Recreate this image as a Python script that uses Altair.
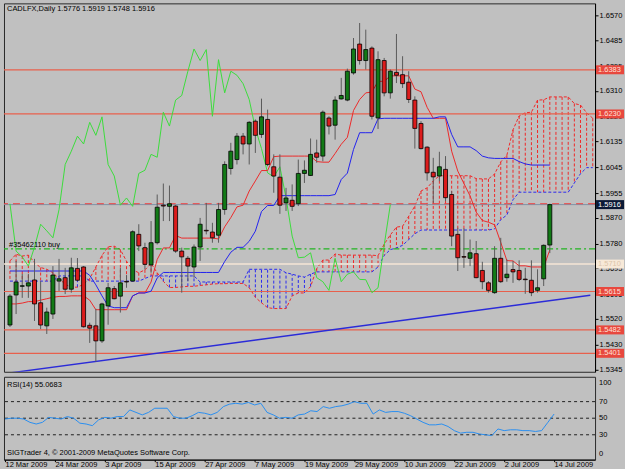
import altair as alt
import pandas as pd

# ---------------- data ----------------
date_labels = ["12 Mar 2009", "24 Mar 2009", "3 Apr 2009", "15 Apr 2009", "27 Apr 2009",
               "7 May 2009", "19 May 2009", "29 May 2009", "10 Jun 2009", "22 Jun 2009",
               "2 Jul 2009", "14 Jul 2009"]
date_ticks = [0, 8, 16, 24, 32, 40, 48, 56, 64, 72, 80, 88]

opens = [1.5499, 1.5603, 1.5633, 1.5634, 1.5655, 1.5576, 1.5496, 1.5537, 1.5651, 1.5663,
         1.5623, 1.5695, 1.5700, 1.5498, 1.5496, 1.5444, 1.5565, 1.5625, 1.5599, 1.5650,
         1.5651, 1.5813, 1.5767, 1.5707, 1.5784, 1.5914, 1.5910, 1.5911, 1.5755, 1.5730,
         1.5700, 1.5769, 1.5827, 1.5821, 1.5810, 1.5899, 1.6041, 1.6072, 1.6153, 1.6126,
         1.6205, 1.6159, 1.6211, 1.6047, 1.6011, 1.5922, 1.5931, 1.5919, 1.6024, 1.6017,
         1.6095, 1.6084, 1.6216, 1.6191, 1.6282, 1.6278, 1.6372, 1.6472, 1.6415, 1.6458,
         1.6216, 1.6415, 1.6303, 1.6374, 1.6366, 1.6340, 1.6278, 1.6197, 1.6115, 1.6028,
         1.6015, 1.6038, 1.5951, 1.5813, 1.5736, 1.5730, 1.5746, 1.5688, 1.5645, 1.5611,
         1.5730, 1.5663, 1.5691, 1.5688, 1.5658, 1.5654, 1.5619, 1.5659, 1.5776]
highs = [1.5606, 1.5721, 1.5676, 1.5676, 1.5728, 1.5651, 1.5559, 1.5703, 1.5728, 1.5697,
         1.5732, 1.5731, 1.5703, 1.5507, 1.5555, 1.5576, 1.5645, 1.5634, 1.5697, 1.5672,
         1.5827, 1.5848, 1.5784, 1.5859, 1.5951, 1.5989, 1.5982, 1.5914, 1.5767, 1.5738,
         1.5778, 1.5870, 1.5922, 1.5853, 1.5922, 1.6066, 1.6130, 1.6164, 1.6164, 1.6205,
         1.6211, 1.6283, 1.6245, 1.6090, 1.6090, 1.5974, 1.5986, 1.6072, 1.6069, 1.6145,
         1.6141, 1.6242, 1.6222, 1.6291, 1.6355, 1.6387, 1.6493, 1.6545, 1.6522, 1.6464,
         1.6447, 1.6424, 1.6384, 1.6507, 1.6430, 1.6378, 1.6291, 1.6205, 1.6118, 1.6078,
         1.6099, 1.6084, 1.5963, 1.5836, 1.5834, 1.5795, 1.5790, 1.5718, 1.5651, 1.5772,
         1.5801, 1.5726, 1.5721, 1.5723, 1.5697, 1.5723, 1.5692, 1.5778, 1.5919]
lows = [1.5492, 1.5537, 1.5593, 1.5593, 1.5513, 1.5485, 1.5468, 1.5520, 1.5617, 1.5606,
        1.5611, 1.5651, 1.5490, 1.5437, 1.5372, 1.5437, 1.5500, 1.5588, 1.5542, 1.5628,
        1.5649, 1.5755, 1.5692, 1.5680, 1.5778, 1.5859, 1.5859, 1.5749, 1.5611, 1.5651,
        1.5663, 1.5721, 1.5813, 1.5784, 1.5784, 1.5881, 1.6020, 1.6055, 1.6090, 1.6055,
        1.6095, 1.6147, 1.6049, 1.5957, 1.5884, 1.5894, 1.5894, 1.5911, 1.5991, 1.6015,
        1.6061, 1.6066, 1.6159, 1.6141, 1.6280, 1.6274, 1.6366, 1.6401, 1.6384, 1.6211,
        1.6178, 1.6291, 1.6283, 1.6337, 1.6320, 1.6268, 1.6110, 1.6107, 1.5999, 1.5922,
        1.5997, 1.5928, 1.5772, 1.5686, 1.5697, 1.5703, 1.5661, 1.5623, 1.5611, 1.5607,
        1.5645, 1.5649, 1.5645, 1.5651, 1.5607, 1.5599, 1.5611, 1.5634, 1.5748]
closes = [1.5599, 1.5648, 1.5635, 1.5645, 1.5572, 1.5499, 1.5544, 1.5672, 1.5659, 1.5623,
          1.5697, 1.5654, 1.5493, 1.5488, 1.5444, 1.5572, 1.5628, 1.5590, 1.5645, 1.5648,
          1.5822, 1.5773, 1.5709, 1.5784, 1.5907, 1.5911, 1.5919, 1.5755, 1.5735, 1.5703,
          1.5769, 1.5848, 1.5825, 1.5801, 1.5899, 1.6055, 1.6101, 1.6153, 1.6126, 1.6201,
          1.6156, 1.6220, 1.6055, 1.6015, 1.5914, 1.5939, 1.5910, 1.6024, 1.6035, 1.6090,
          1.6080, 1.6236, 1.6188, 1.6278, 1.6294, 1.6378, 1.6455, 1.6415, 1.6453, 1.6222,
          1.6418, 1.6303, 1.6378, 1.6364, 1.6335, 1.6280, 1.6180, 1.6110, 1.6026, 1.6012,
          1.6047, 1.5940, 1.5807, 1.5732, 1.5734, 1.5749, 1.5663, 1.5649, 1.5619, 1.5730,
          1.5649, 1.5675, 1.5683, 1.5657, 1.5656, 1.5611, 1.5628, 1.5775, 1.5916]

tenkan = [1.5572, 1.5572, 1.5575, 1.5580, 1.5580, 1.5585, 1.5590, 1.5595, 1.5598, 1.5598,
          1.5600, 1.5600, 1.5600, 1.5585, 1.5552, 1.5552, 1.5552, 1.5552, 1.5552, 1.5552,
          1.5600, 1.5610, 1.5610, 1.5648, 1.5726, 1.5766, 1.5766, 1.5809, 1.5800, 1.5800,
          1.5800, 1.5800, 1.5800, 1.5800, 1.5797, 1.5839, 1.5871, 1.5908, 1.5914, 1.5963,
          1.5998, 1.6034, 1.6034, 1.6082, 1.6084, 1.6084, 1.6084, 1.6084, 1.6084, 1.6084,
          1.6065, 1.6063, 1.6063, 1.6093, 1.6125, 1.6149, 1.6242, 1.6280, 1.6303, 1.6306,
          1.6343, 1.6343, 1.6362, 1.6362, 1.6362, 1.6362, 1.6316, 1.6307, 1.6253, 1.6215,
          1.6215, 1.6215, 1.6101, 1.6032, 1.5989, 1.5946, 1.5890, 1.5861, 1.5855, 1.5846,
          1.5785, 1.5722, 1.5721, 1.5704, 1.5704, 1.5700, 1.5700, 1.5700, 1.5759]
kijun = [1.5686, 1.5686, 1.5686, 1.5686, 1.5686, 1.5686, 1.5686, 1.5686, 1.5686, 1.5686,
         1.5686, 1.5686, 1.5686, 1.5671, 1.5638, 1.5600, 1.5565, 1.5559, 1.5559, 1.5559,
         1.5600, 1.5610, 1.5610, 1.5616, 1.5662, 1.5681, 1.5681, 1.5681, 1.5681, 1.5681,
         1.5681, 1.5681, 1.5681, 1.5681, 1.5681, 1.5719, 1.5751, 1.5768, 1.5768, 1.5789,
         1.5824, 1.5892, 1.5913, 1.5913, 1.5947, 1.5947, 1.5947, 1.5947, 1.5947, 1.5947,
         1.5947, 1.5947, 1.5947, 1.5951, 1.6003, 1.6025, 1.6107, 1.6165, 1.6165, 1.6165,
         1.6213, 1.6215, 1.6215, 1.6215, 1.6215, 1.6215, 1.6215, 1.6215, 1.6215, 1.6215,
         1.6220, 1.6220, 1.6159, 1.6116, 1.6116, 1.6116, 1.6103, 1.6084, 1.6078, 1.6076,
         1.6076, 1.6076, 1.6076, 1.6065, 1.6057, 1.6053, 1.6053, 1.6053, 1.6053]

# Senkou spans as drawn (already shifted 26 bars ahead), bars 0..95
span_a = [1.5721, 1.5744, 1.5738, 1.5741, 1.5715, 1.5698, 1.5692, 1.5680, 1.5660, 1.5640,
          1.5630, 1.5630, 1.5640, 1.5660, 1.5700, 1.5740, 1.5770, 1.5772, 1.5760, 1.5720,
          1.5690, 1.5680, 1.5690, 1.5712, 1.5680, 1.5650, 1.5629, 1.5629, 1.5631, 1.5633,
          1.5633, 1.5636, 1.5638, 1.5641, 1.5642, 1.5642, 1.5643, 1.5643, 1.5643, 1.5628,
          1.5595, 1.5576, 1.5559, 1.5556, 1.5556, 1.5556, 1.5600, 1.5610, 1.5610, 1.5632,
          1.5694, 1.5724, 1.5724, 1.5745, 1.5741, 1.5741, 1.5741, 1.5741, 1.5741, 1.5741,
          1.5739, 1.5779, 1.5811, 1.5838, 1.5841, 1.5876, 1.5911, 1.5963, 1.5974, 1.5998,
          1.6016, 1.6016, 1.6016, 1.6016, 1.6016, 1.6016, 1.6006, 1.6005, 1.6005, 1.6022,
          1.6064, 1.6087, 1.6175, 1.6223, 1.6234, 1.6236, 1.6278, 1.6279, 1.6289, 1.6289,
          1.6289, 1.6289, 1.6266, 1.6261, 1.6234, 1.6215]
span_b = [1.5651, 1.5651, 1.5651, 1.5651, 1.5651, 1.5651, 1.5651, 1.5651, 1.5669, 1.5669,
          1.5669, 1.5669, 1.5669, 1.5651, 1.5651, 1.5651, 1.5651, 1.5651, 1.5651, 1.5651,
          1.5651, 1.5651, 1.5660, 1.5669, 1.5669, 1.5669, 1.5669, 1.5669, 1.5669, 1.5669,
          1.5669, 1.5648, 1.5648, 1.5648, 1.5648, 1.5648, 1.5648, 1.5648, 1.5648, 1.5692,
          1.5692, 1.5692, 1.5692, 1.5692, 1.5692, 1.5680, 1.5675, 1.5669, 1.5665, 1.5675,
          1.5683, 1.5683, 1.5683, 1.5683, 1.5683, 1.5683, 1.5683, 1.5683, 1.5683, 1.5683,
          1.5700, 1.5740, 1.5760, 1.5766, 1.5775, 1.5795, 1.5815, 1.5828, 1.5828, 1.5828,
          1.5828, 1.5828, 1.5828, 1.5828, 1.5828, 1.5828, 1.5828, 1.5828, 1.5828, 1.5832,
          1.5864, 1.5880, 1.5933, 1.5959, 1.5959, 1.5959, 1.5959, 1.5959, 1.5959, 1.5959,
          1.5959, 1.5959, 1.5991, 1.6023, 1.6044, 1.6044]

rsi = [49, 50, 50, 49, 45, 43, 45, 51, 50, 49,
       52, 50, 44, 43, 41, 48, 51, 50, 52, 52,
       60, 57, 54, 57, 62, 62, 62, 52, 50, 50,
       53, 57, 56, 54, 57, 64, 67, 68, 67, 69,
       66, 68, 57, 54, 50, 51, 50, 54, 55, 59,
       58, 64, 62, 64, 65, 67, 70, 68, 68, 55,
       60, 57, 58, 58, 56, 53, 49, 45, 42, 42,
       43, 40, 35, 32, 33, 33, 31, 30, 29, 37,
       35, 36, 36, 35, 35, 34, 35, 45, 55.07]

chikou_shift = 26
level_prices = [1.6383, 1.6230, 1.5615, 1.5482, 1.5401]
bid_price = [1.5916]
stop_price = [1.5919]
order_price = [1.5763]
pale_price = [1.5710]
trend_bars = [0, 94.6]
trend_prices = [1.5333, 1.5602]
price_ticks = [1.6570, 1.6485, 1.6395, 1.6310, 1.6220, 1.6135, 1.6045, 1.5955, 1.5870,
               1.5780, 1.5695, 1.5605, 1.5520, 1.5430, 1.5345]
box_prices = [1.6383, 1.6230, 1.5916, 1.5710, 1.5615, 1.5482, 1.5401]
box_fill = ["#e8483e", "#e8483e", "#0b1a36", "#f7e9d8", "#e8483e", "#e8483e", "#e8483e"]
box_text = ["#ffe0d8", "#ffe0d8", "#ffffff", "#dcc4a8", "#ffe0d8", "#ffe0d8", "#ffe0d8"]
rsi_levels = [30, 50, 70]

# ---------------- styles ----------------
FONT = "Liberation Sans"
FS = 7.5
W = 592
H_MAIN = 369
H_RSI = 83
xdom = [-0.16, 94.56]
pdom = [1.5337, 1.6613]

xs = alt.Scale(domain=xdom, nice=False, zero=False)
ps = alt.Scale(domain=pdom, nice=False, zero=False)
paxis = alt.Axis(orient="right", values=price_ticks, format=".4f", labelFont=FONT,
                 labelFontSize=FS, labelColor="#000000", tickSize=3, tickColor="#000000",
                 domainColor="#000000", labelPadding=1, grid=False, labelOverlap=False,
                 labelFlush=False, title=None)


def PX(f="i:Q"):
    return alt.X(f, scale=xs, axis=None, title=None)


def PY(f):
    return alt.Y(f, scale=ps, axis=paxis, title=None)


n = len(opens)
cdf = pd.DataFrame({"i": list(range(n)), "o": opens, "h": highs, "l": lows, "c": closes,
                    "tk": tenkan, "kj": kijun})
cdf["col"] = ["#127a16" if c >= o else "#dc1c1c" for o, c in zip(opens, closes)]

chik = pd.DataFrame({"i": list(range(n - chikou_shift)), "v": closes[chikou_shift:]})

sdf = pd.DataFrame({"i": list(range(len(span_a))), "a": span_a, "b": span_b})
sdf["hc"] = ["#f02828" if a >= b else "#2a2af0" for a, b in zip(span_a, span_b)]

hatch = alt.Chart(sdf).mark_rule(strokeDash=[3, 2], strokeWidth=1, clip=True).encode(
    x=PX(), y=PY("a:Q"), y2="b:Q", color=alt.Color("hc:N", scale=None))
line_a = alt.Chart(sdf).mark_line(strokeDash=[3, 2], strokeWidth=1, color="#f02828",
                                  clip=True).encode(x=PX(), y=PY("a:Q"))
line_b = alt.Chart(sdf).mark_line(strokeDash=[3, 2], strokeWidth=1, color="#2a2af0",
                                  clip=True).encode(x=PX(), y=PY("b:Q"))

lv = alt.Chart(pd.DataFrame({"p": level_prices})).mark_rule(
    color="#e8604c", strokeWidth=1.2).encode(y=PY("p:Q"))
pale = alt.Chart(pd.DataFrame({"p": pale_price})).mark_rule(
    color="#f6e6d6", strokeWidth=1.5).encode(y=PY("p:Q"))
bid = alt.Chart(pd.DataFrame({"p": bid_price})).mark_rule(
    color="#7d92a8", strokeWidth=1).encode(y=PY("p:Q"))
stop = alt.Chart(pd.DataFrame({"p": stop_price})).mark_rule(
    color="#f03c3c", strokeWidth=1, strokeDash=[7, 5]).encode(y=PY("p:Q"))
order = alt.Chart(pd.DataFrame({"p": order_price})).mark_rule(
    color="#22b422", strokeWidth=1.2, strokeDash=[6, 3, 2, 3]).encode(y=PY("p:Q"))

trend = alt.Chart(pd.DataFrame({"i": trend_bars, "p": trend_prices})).mark_line(
    color="#2b2bd8", strokeWidth=1.4, clip=True).encode(x=PX(), y=PY("p:Q"))

chikou_line = alt.Chart(chik).mark_line(color="#3cdc3c", strokeWidth=1, clip=True).encode(
    x=PX(), y=PY("v:Q"))
tenkan_line = alt.Chart(cdf).mark_line(color="#ec2a2a", strokeWidth=1, clip=True).encode(
    x=PX(), y=PY("tk:Q"))
kijun_line = alt.Chart(cdf).mark_line(color="#2222ee", strokeWidth=1, clip=True).encode(
    x=PX(), y=PY("kj:Q"))

wicks = alt.Chart(cdf).mark_rule(color="#5a5a5a", strokeWidth=1, clip=True).encode(
    x=PX(), y=PY("l:Q"), y2="h:Q")
bodies = alt.Chart(cdf).mark_bar(size=4, stroke="#000000", strokeWidth=0.8, clip=True).encode(
    x=PX(), y=PY("o:Q"), y2="c:Q", color=alt.Color("col:N", scale=None))

title_txt = alt.Chart(pd.DataFrame({"t": ["CADLFX,Daily  1.5776 1.5919 1.5748 1.5916"]})).mark_text(
    align="left", baseline="middle", font=FONT, fontSize=FS, color="#000000").encode(
    x=alt.value(3), y=alt.value(6), text="t:N")
order_txt = alt.Chart(pd.DataFrame({"p": order_price, "t": ["#35462110 buy"]})).mark_text(
    align="left", baseline="alphabetic", dy=-2, font=FONT, fontSize=FS, color="#000000").encode(
    x=alt.value(5), y=PY("p:Q"), text="t:N")

bdf = pd.DataFrame({"p": box_prices, "f": box_fill, "tc": box_text,
                    "t": [f"{v:.4f}" for v in box_prices]})
boxes = alt.Chart(bdf).mark_tick(orient="horizontal", thickness=9, size=28, opacity=1).encode(
    x=alt.value(W + 15), y=PY("p:Q"), color=alt.Color("f:N", scale=None))
box_txt = alt.Chart(bdf).mark_text(align="left", baseline="middle", font=FONT, fontSize=FS).encode(
    x=alt.value(W + 3), y=PY("p:Q"), text="t:N", color=alt.Color("tc:N", scale=None))

main = alt.layer(hatch, line_a, line_b, lv, pale, bid, stop, order, trend,
                 chikou_line, tenkan_line, kijun_line, wicks, bodies,
                 title_txt, order_txt, boxes, box_txt).properties(width=W, height=H_MAIN)

# ---------------- RSI panel ----------------
label_js = "[" + ",".join("'" + d + "'" for d in date_labels) + "]"
xaxis = alt.Axis(orient="bottom", values=date_ticks,
                 labelExpr=label_js + "[round(datum.value/8)]",
                 labelAlign="left", labelBaseline="middle", labelFont=FONT, labelFontSize=FS,
                 labelColor="#000000", tickSize=2, tickColor="#000000", domainColor="#000000",
                 labelPadding=3, grid=False, labelOverlap=False, labelFlush=False, title=None)
rs = alt.Scale(domain=[0, 100], nice=False, zero=False)


def RX(f="i:Q"):
    return alt.X(f, scale=xs, axis=xaxis, title=None)


def RY(f):
    return alt.Y(f, scale=rs, axis=None, title=None)


rdf = pd.DataFrame({"i": list(range(n)), "r": rsi})
rlev = alt.Chart(pd.DataFrame({"v": rsi_levels})).mark_rule(
    color="#202020", strokeDash=[3, 3], strokeWidth=1).encode(y=RY("v:Q"))
rline = alt.Chart(rdf).mark_line(color="#2a8ff0", strokeWidth=1, clip=True).encode(
    x=RX(), y=RY("r:Q"))
rlab_mid = alt.Chart(pd.DataFrame({"v": rsi_levels})).mark_text(
    align="left", baseline="middle", font=FONT, fontSize=FS, color="#000000").encode(
    x=alt.value(W + 4), y=RY("v:Q"), text=alt.Text("v:Q", format="d"))
rlab_top = alt.Chart(pd.DataFrame({"v": [100]})).mark_text(
    align="left", baseline="top", dy=2, font=FONT, fontSize=FS, color="#000000").encode(
    x=alt.value(W + 4), y=RY("v:Q"), text=alt.Text("v:Q", format="d"))
rlab_bot = alt.Chart(pd.DataFrame({"v": [0]})).mark_text(
    align="left", baseline="bottom", dy=-2, font=FONT, fontSize=FS, color="#000000").encode(
    x=alt.value(W + 4), y=RY("v:Q"), text=alt.Text("v:Q", format="d"))
rsi_title = alt.Chart(pd.DataFrame({"t": ["RSI(14) 55.0683"]})).mark_text(
    align="left", baseline="middle", font=FONT, fontSize=FS, color="#000000").encode(
    x=alt.value(3), y=alt.value(8), text="t:N")
copy_txt = alt.Chart(pd.DataFrame({"t": ["SIGTrader 4, \u00a9 2001-2009 MetaQuotes Software Corp."]})).mark_text(
    align="left", baseline="middle", font=FONT, fontSize=FS, color="#000000").encode(
    x=alt.value(3), y=alt.value(76), text="t:N")

rsi_panel = alt.layer(rlev, rline, rlab_mid, rlab_top, rlab_bot, rsi_title, copy_txt).properties(
    width=W, height=H_RSI)

chart = alt.vconcat(main, rsi_panel, spacing=2).properties(
    background="#c0c0c0",
    padding={"left": 2, "top": 2, "right": 0, "bottom": 0},
).configure_view(stroke="#2a2a2a", strokeWidth=1).configure_concat(spacing=2)

chart.save("out.html", embed_options={"renderer": "svg", "actions": False})
